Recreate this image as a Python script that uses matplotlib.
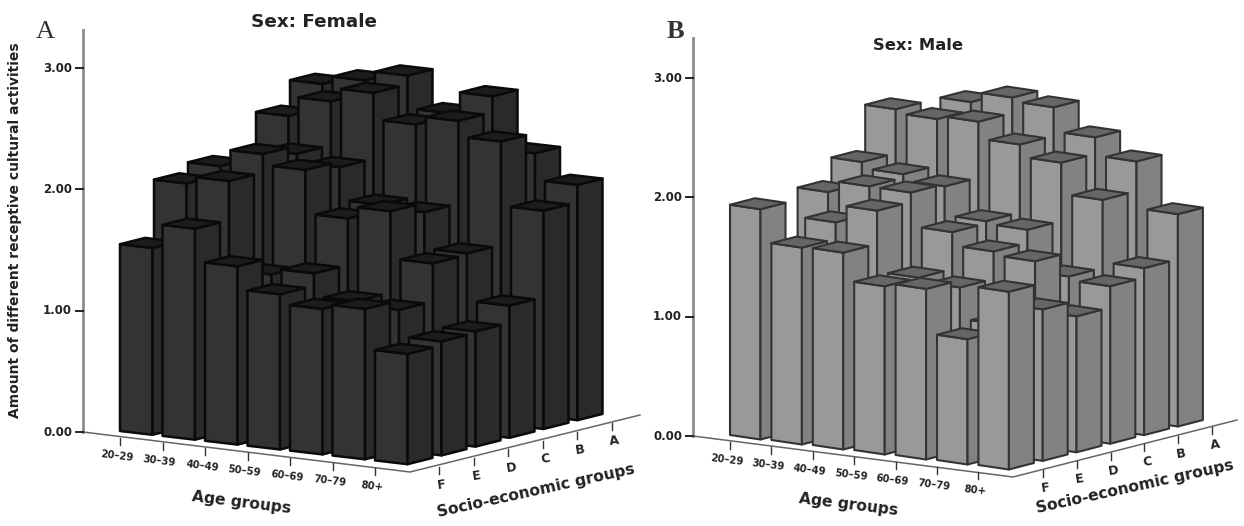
import matplotlib
matplotlib.use("Agg")
import matplotlib.pyplot as plt
from matplotlib.patches import Polygon

AGE_GROUPS = ["20–29", "30–39", "40–49", "50–59", "60–69", "70–79", "80+"]
SES_GROUPS = ["F", "E", "D", "C", "B", "A"]
Y_TICKS = [0.0, 1.0, 2.0, 3.0]

# rows follow SES_GROUPS, columns follow AGE_GROUPS
FEMALE = [
    [1.54, 1.74, 1.47, 1.28, 1.20, 1.24, 0.91],
    [2.00, 2.06, 1.33, 1.38, 1.19, 1.16, 0.94],
    [2.07, 2.21, 2.12, 1.76, 1.86, 1.47, 0.95],
    [1.95, 2.14, 2.07, 1.80, 1.78, 1.48, 1.09],
    [2.34, 2.50, 2.61, 2.39, 2.46, 2.33, 1.80],
    [2.53, 2.60, 2.68, 2.41, 2.59, 2.16, 1.94],
]
MALE = [
    [1.93, 1.65, 1.65, 1.41, 1.43, 1.05, 1.49],
    [1.45, 1.79, 1.93, 1.41, 1.37, 1.10, 1.27],
    [1.93, 2.02, 2.01, 1.72, 1.60, 1.56, 1.14],
    [2.11, 2.05, 1.99, 1.74, 1.71, 1.36, 1.32],
    [2.48, 2.44, 2.46, 2.31, 2.20, 1.93, 1.40],
    [2.25, 2.51, 2.59, 2.55, 2.34, 2.18, 1.78],
]

FONT = "DejaVu Sans"
TEXT = "#222222"


def draw_panel(ax, values, p):
    x0, y0 = p["origin"]
    unit = p["unit"]

    # axes
    ax.plot([x0, x0], [y0, p["axis_top"]], color="#8c8c8c", lw=2, zorder=1)
    ax.plot([x0, p["corner"][0], p["end"][0]], [y0, p["corner"][1], p["end"][1]],
            color="#666666", lw=1.1, zorder=1)
    for v in Y_TICKS:
        y = y0 - v * unit
        ax.plot([x0 - 7, x0], [y, y], color="#222222", lw=1.4, zorder=1)
        ax.text(x0 - 11, y, f"{v:.2f}", ha="right", va="center", fontsize=8.5,
                fontweight="bold", family=FONT, color=TEXT)

    # ticks and their labels
    ax_, ay_ = p["age_tick"]
    sx, sy = p["age_step"]
    for i, label in enumerate(AGE_GROUPS):
        tx, ty = ax_ + i * sx, ay_ + i * sy
        ax.plot([tx, tx], [ty, ty + 7], color="#333333", lw=1, zorder=1)
        ax.text(tx - 3, ty + 18, label, ha="center", va="center", fontsize=7.3,
                fontweight="bold", rotation=-7, family=FONT, color=TEXT)
    bx_, by_ = p["ses_tick"]
    dx, dy = p["ses_step"]
    for j, label in enumerate(SES_GROUPS):
        tx, ty = bx_ + j * dx, by_ + j * dy
        ax.plot([tx, tx], [ty, ty + 7], color="#333333", lw=1, zorder=1)
        ax.text(tx + 3, ty + 18, label, ha="center", va="center", fontsize=9,
                fontweight="bold", rotation=8, family=FONT, color=TEXT)

    # bars, back row first so the front ones cover them
    bx, by = p["bar"]
    wx, wy = p["front"]
    px, py = p["side"]
    z = 2
    for j in range(len(SES_GROUPS) - 1, -1, -1):
        for i in range(len(AGE_GROUPS)):
            h = values[j][i] * unit
            lx, ly = bx + i * sx + j * p["bar_dx"], by + i * p["bar_dy"] + j * dy
            a = (lx, ly)
            b = (lx + wx, ly + wy)
            c = (lx + wx + px, ly + wy + py)
            up = lambda q: (q[0], q[1] - h)
            back = (lx + px, ly + py)
            faces = [
                ([a, b, up(b), up(a)], p["c_front"]),
                ([b, c, up(c), up(b)], p["c_side"]),
                ([up(a), up(b), up(c), up(back)], p["c_top"]),
            ]
            for pts, col in faces:
                ax.add_patch(Polygon(pts, closed=True, facecolor=col, edgecolor=p["c_edge"],
                                     lw=p["lw"], joinstyle="round", zorder=z))
            z += 1

    ax.text(*p["title_xy"], p["title"], ha="center", va="center", fontsize=p["title_fs"],
            fontweight="bold", family=FONT, color=TEXT)
    ax.text(*p["letter_xy"], p["letter"], ha="center", va="center", fontsize=19,
            family="Liberation Serif", fontweight=p["letter_w"], color="#333333")
    ax.text(*p["age_xy"], "Age groups", ha="center", va="center", fontsize=11.2,
            fontweight="bold", rotation=-7, family=FONT, color=TEXT)
    ax.text(*p["ses_xy"], "Socio-economic groups", ha="center", va="center", fontsize=11.2,
            fontweight="bold", rotation=12.5, rotation_mode="anchor", family=FONT, color=TEXT)


def main():
    fig = plt.figure(figsize=(12.44, 5.26), dpi=100)
    ax = fig.add_axes([0, 0, 1, 1])
    ax.set_xlim(0, 1244)
    ax.set_ylim(526, 0)
    ax.axis("off")

    female = dict(
        origin=(83, 432), unit=121.3, axis_top=30, corner=(410, 472), end=(640, 415),
        age_tick=(120, 438), age_step=(42.5, 5.0), ses_tick=(439, 467), ses_step=(34.5, -8.8),
        bar=(120, 431), bar_dx=34.0, bar_dy=4.9, front=(32.5, 3.8), side=(25, -6.3),
        c_front="#333333", c_side="#2a2a2a", c_top="#1c1c1c", c_edge="#0a0a0a", lw=1.8,
        title="Sex: Female", title_xy=(314, 22), title_fs=13.2, letter="A", letter_xy=(45, 32),
        letter_w="normal", age_xy=(241, 503), ses_xy=(536, 491),
    )
    male = dict(
        origin=(693, 436), unit=119.3, axis_top=38, corner=(1013, 477), end=(1237, 420),
        age_tick=(730, 442), age_step=(41.4, 5.0), ses_tick=(1043, 470), ses_step=(33.8, -8.6),
        bar=(730, 435), bar_dx=33.8, bar_dy=5.0, front=(30.5, 4.5), side=(25, -6.5),
        c_front="#999999", c_side="#828282", c_top="#666666", c_edge="#333333", lw=1.5,
        title="Sex: Male", title_xy=(918, 45), title_fs=11.8, letter="B", letter_xy=(675, 31),
        letter_w="bold", age_xy=(848, 505), ses_xy=(1135, 487),
    )
    draw_panel(ax, FEMALE, female)
    draw_panel(ax, MALE, male)

    ax.text(15, 230, "Amount of different receptive cultural activities", ha="center", va="center",
            rotation=90, fontsize=10, fontweight="bold", family=FONT, color=TEXT)

    fig.savefig("out.png", dpi=100)


if __name__ == "__main__":
    main()
